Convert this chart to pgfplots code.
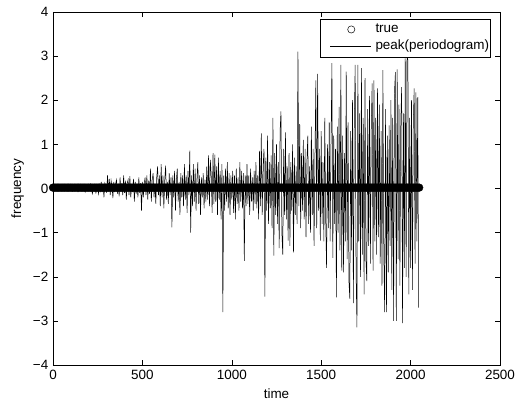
\documentclass[border=0pt]{standalone}
\usepackage{fontspec}
\setmainfont{Liberation Sans}
\usepackage{pgfplots}
\pgfplotsset{compat=1.18}
\begin{document}
\fontsize{13.5}{16}\selectfont
\begin{tikzpicture}
\begin{axis}[
  scale only axis, width=447bp, height=353bp,
  xmin=0, xmax=2500, ymin=-4, ymax=4,
  xtick={0,500,1000,1500,2000,2500}, ytick={-4,-3,-2,-1,0,1,2,3,4},
  yticklabels={−4,−3,−2,−1,0,1,2,3,4},
  tick align=inside, xtick pos=both, ytick pos=both,
  major tick length=5bp,
  every tick/.style={black, line width=0.5pt},
  axis line style={black, line width=0.6pt},
  /pgf/number format/assume math mode=true,
  /pgf/number format/1000 sep={},
  scaled x ticks=false,
  tick label style={font=\fontsize{13.5}{16}\selectfont},
  label style={font=\fontsize{13.5}{16}\selectfont},
  xlabel={time}, ylabel={frequency},
  clip=false,
  legend cell align=left,
  legend style={at={(0.9785,0.981)}, anchor=north east, draw=black, line width=0.5pt,
    fill=white, font=\fontsize{13.5}{16}\selectfont, inner xsep=1bp, inner ysep=4bp,
    nodes={inner sep=0pt, text height=10bp, text depth=3bp}, row sep=4bp, column sep=4bp},
]
\addplot[only marks, mark=*, mark size=3.9bp, black,
  legend image code/.code={\path[draw=none, fill=none] (0,0) -- (50bp,0); \draw[black, fill=none, line width=0.5pt] (30bp,0) circle (3.6bp);}]
coordinates {
(0,0.02)(8,0.02)(16,0.02)(24,0.02)(32,0.02)(40,0.02)(48,0.02)(56,0.02)(64,0.02)(72,0.02)(80,0.02)(88,0.02)(96,0.02)(104,0.02)(112,0.02)(120,0.02)
(128,0.02)(136,0.02)(144,0.02)(152,0.02)(160,0.02)(168,0.02)(176,0.02)(184,0.02)(192,0.02)(200,0.02)(208,0.02)(216,0.02)(224,0.02)(232,0.02)(240,0.02)(248,0.02)
(256,0.02)(264,0.02)(272,0.02)(280,0.02)(288,0.02)(296,0.02)(304,0.02)(312,0.02)(320,0.02)(328,0.02)(336,0.02)(344,0.02)(352,0.02)(360,0.02)(368,0.02)(376,0.02)
(384,0.02)(392,0.02)(400,0.02)(408,0.02)(416,0.02)(424,0.02)(432,0.02)(440,0.02)(448,0.02)(456,0.02)(464,0.02)(472,0.02)(480,0.02)(488,0.02)(496,0.02)(504,0.02)
(512,0.02)(520,0.02)(528,0.02)(536,0.02)(544,0.02)(552,0.02)(560,0.02)(568,0.02)(576,0.02)(584,0.02)(592,0.02)(600,0.02)(608,0.02)(616,0.02)(624,0.02)(632,0.02)
(640,0.02)(648,0.02)(656,0.02)(664,0.02)(672,0.02)(680,0.02)(688,0.02)(696,0.02)(704,0.02)(712,0.02)(720,0.02)(728,0.02)(736,0.02)(744,0.02)(752,0.02)(760,0.02)
(768,0.02)(776,0.02)(784,0.02)(792,0.02)(800,0.02)(808,0.02)(816,0.02)(824,0.02)(832,0.02)(840,0.02)(848,0.02)(856,0.02)(864,0.02)(872,0.02)(880,0.02)(888,0.02)
(896,0.02)(904,0.02)(912,0.02)(920,0.02)(928,0.02)(936,0.02)(944,0.02)(952,0.02)(960,0.02)(968,0.02)(976,0.02)(984,0.02)(992,0.02)(1000,0.02)(1008,0.02)(1016,0.02)
(1024,0.02)(1032,0.02)(1040,0.02)(1048,0.02)(1056,0.02)(1064,0.02)(1072,0.02)(1080,0.02)(1088,0.02)(1096,0.02)(1104,0.02)(1112,0.02)(1120,0.02)(1128,0.02)(1136,0.02)(1144,0.02)
(1152,0.02)(1160,0.02)(1168,0.02)(1176,0.02)(1184,0.02)(1192,0.02)(1200,0.02)(1208,0.02)(1216,0.02)(1224,0.02)(1232,0.02)(1240,0.02)(1248,0.02)(1256,0.02)(1264,0.02)(1272,0.02)
(1280,0.02)(1288,0.02)(1296,0.02)(1304,0.02)(1312,0.02)(1320,0.02)(1328,0.02)(1336,0.02)(1344,0.02)(1352,0.02)(1360,0.02)(1368,0.02)(1376,0.02)(1384,0.02)(1392,0.02)(1400,0.02)
(1408,0.02)(1416,0.02)(1424,0.02)(1432,0.02)(1440,0.02)(1448,0.02)(1456,0.02)(1464,0.02)(1472,0.02)(1480,0.02)(1488,0.02)(1496,0.02)(1504,0.02)(1512,0.02)(1520,0.02)(1528,0.02)
(1536,0.02)(1544,0.02)(1552,0.02)(1560,0.02)(1568,0.02)(1576,0.02)(1584,0.02)(1592,0.02)(1600,0.02)(1608,0.02)(1616,0.02)(1624,0.02)(1632,0.02)(1640,0.02)(1648,0.02)(1656,0.02)
(1664,0.02)(1672,0.02)(1680,0.02)(1688,0.02)(1696,0.02)(1704,0.02)(1712,0.02)(1720,0.02)(1728,0.02)(1736,0.02)(1744,0.02)(1752,0.02)(1760,0.02)(1768,0.02)(1776,0.02)(1784,0.02)
(1792,0.02)(1800,0.02)(1808,0.02)(1816,0.02)(1824,0.02)(1832,0.02)(1840,0.02)(1848,0.02)(1856,0.02)(1864,0.02)(1872,0.02)(1880,0.02)(1888,0.02)(1896,0.02)(1904,0.02)(1912,0.02)
(1920,0.02)(1928,0.02)(1936,0.02)(1944,0.02)(1952,0.02)(1960,0.02)(1968,0.02)(1976,0.02)(1984,0.02)(1992,0.02)(2000,0.02)(2008,0.02)(2016,0.02)(2024,0.02)(2032,0.02)(2040,0.02)
(2048,0.02)
};
\addlegendentry{true}
\addplot[black, line width=0.5pt, mark=none,
  legend image code/.code={\path[draw=none] (0,0) -- (50bp,0); \draw[black, line width=0.5pt] (9bp,0) -- (50bp,0);}]
coordinates {
(0,0.02)(10,0.05)(20,-0.03)(30,0.06)(40,0.01)(50,-0.04)(60,0.07)(70,0.02)(80,-0.05)(90,0.06)
(100,0.03)(110,-0.06)(120,0.05)(130,0.08)(140,-0.07)(150,0.04)(160,-0.05)(170,0.09)(180,-0.08)(190,0.06)
(200,-0.04)(210,0.1)(220,-0.12)(230,0.08)(240,-0.1)
(250,0.05)(255,-0.12)(260,0.08)(265,-0.05)(270,0.15)(275,-0.08)(280,0.1)(285,-0.2)(290,0.12)(295,0.05)
(300,-0.1)(305,0.3)(310,-0.05)(315,0.22)(320,-0.15)(325,0.18)(330,0.05)(335,-0.22)(340,0.15)(345,-0.08)
(350,0.1)(355,0.2)(360,-0.12)(365,0.08)(370,-0.18)(375,0.25)(380,-0.06)(385,0.12)(390,-0.15)(395,0.3)
(400,-0.1)(405,0.18)(410,-0.25)(415,0.12)(420,0.2)(425,-0.15)(430,0.28)(435,-0.2)(440,0.1)(445,-0.08)
(450,0.22)(455,-0.3)(460,0.15)(465,-0.12)(470,0.08)(475,-0.2)(480,0.25)(485,-0.1)(490,0.12)(495,-0.5)
(500,0.15)(505,-0.2)(510,0.1)(515,0.25)(520,-0.15)(525,0.3)(530,-0.25)(535,0.18)(540,-0.12)(545,0.45)
(550,-0.3)(555,0.2)(560,0.35)(565,-0.2)(570,0.1)(575,-0.35)(580,0.25)(585,0.5)(590,-0.15)(595,0.3)
(600,-0.4)(605,0.55)(610,-0.2)(615,0.3)(620,-0.45)(625,0.2)(630,0.52)(635,-0.25)(640,0.15)(645,-0.35)
(650,0.35)(655,-0.15)(660,0.25)(665,-0.88)(670,0.3)(675,-0.2)(680,0.4)(685,-0.5)(690,0.2)(695,0.45)
(700,-0.3)(705,0.15)(710,-0.6)(715,0.35)(720,-0.2)(725,0.3)(730,-0.4)(735,0.55)(740,-0.25)(745,0.3)
(750,-0.55)(755,0.4)(760,-0.15)(765,0.86)(770,-1.0)(775,0.3)(780,-0.4)(785,0.55)(790,-0.3)(795,0.45)
(800,-0.5)(805,0.2)(810,0.6)(815,-0.35)(820,0.3)(825,-0.6)(830,0.25)(835,-0.2)(840,0.35)(845,-0.45)
(850,0.2)(855,-0.3)(860,0.5)(865,-0.25)(870,0.75)(875,-0.4)(880,0.65)(885,0.3)(890,-0.55)(895,0.8)
(900,-0.35)(905,0.77)(910,-0.3)(915,0.5)(920,-0.6)(925,0.7)(930,-0.25)(935,0.4)(940,-0.7)(945,0.55)
(950,-2.8)(955,0.3)(960,-0.5)(965,0.45)(970,-0.3)(975,0.6)(980,-0.45)(985,0.35)(990,-0.6)(995,0.3)
(1000,-0.25)(1005,0.4)(1010,-0.55)(1015,0.3)(1020,-0.7)(1025,0.45)(1030,-0.35)(1035,0.25)(1040,-0.5)(1045,0.6)
(1050,-0.3)(1055,0.4)(1060,-0.45)(1065,0.35)(1070,-1.64)(1075,0.3)(1080,-0.4)(1085,0.55)(1090,-0.35)(1095,0.3)
(1100,-0.6)(1105,0.45)(1110,-0.3)(1115,0.25)(1120,-0.5)(1125,0.4)(1130,-0.35)(1135,0.6)(1140,-0.45)(1145,0.3)
(1150,-0.7)(1155,0.85)(1160,-0.4)(1165,1.25)(1170,-0.6)(1175,0.5)(1180,0.9)(1185,-2.45)(1190,0.7)(1195,-0.5)
(1200,1.2)(1205,-0.8)(1210,0.6)(1215,-0.45)(1220,0.75)(1225,-0.9)(1230,1.6)(1235,-1.52)(1240,0.8)(1245,-0.6)
(1250,1.0)(1255,-0.8)(1260,0.6)(1265,-1.35)(1270,1.3)(1275,1.75)(1280,-1.0)(1285,-1.5)(1290,0.9)(1295,-0.6)
(1300,1.27)(1305,-0.7)(1310,0.5)(1315,-1.18)(1320,0.8)(1325,-1.3)(1330,0.6)(1335,-0.5)(1340,1.0)(1345,-1.45)
(1350,0.7)(1355,-0.6)(1360,0.5)(1365,-0.8)(1370,3.1)(1375,-0.4)(1380,1.46)(1385,-0.9)(1390,0.8)(1395,-0.5)
(1400,1.1)(1405,-0.7)(1410,0.9)(1415,-1.1)(1420,0.6)(1425,1.2)(1430,-0.8)(1435,0.5)(1440,-1.0)(1445,1.4)
(1450,-0.6)(1455,0.9)(1460,-1.3)(1465,0.7)(1470,2.45)(1475,-0.9)(1480,2.6)(1485,-0.5)(1490,0.9)(1495,-1.18)
(1500,1.3)(1505,-0.8)(1510,0.6)(1515,-1.2)(1520,1.6)(1525,-0.7)(1530,-1.8)(1535,1.0)(1540,-0.9)(1545,1.5)
(1550,-1.2)(1555,1.1)(1560,2.84)(1565,-1.57)(1570,1.2)(1575,-0.8)(1580,0.9)(1585,-2.47)(1590,1.4)(1595,-1.0)
(1600,1.85)(1605,-1.4)(1610,2.8)(1615,-1.86)(1620,1.2)(1625,-1.9)(1630,0.8)(1635,-1.2)(1640,2.65)(1645,-1.6)
(1650,1.5)(1655,-2.1)(1660,-2.5)(1665,1.3)(1670,-1.4)(1675,2.0)(1680,-2.6)(1685,1.5)(1690,2.8)(1695,-1.9)
(1700,-3.15)(1705,2.8)(1710,-1.2)(1715,1.7)(1720,-2.0)(1725,2.73)(1730,-1.5)(1735,1.6)(1740,-2.4)(1745,2.5)
(1750,-1.6)(1755,-2.1)(1760,1.8)(1765,-1.3)(1770,2.1)(1775,-1.7)(1780,1.4)(1785,2.38)(1790,-1.86)(1795,2.45)
(1800,-1.2)(1805,1.6)(1810,-1.5)(1815,2.27)(1820,-1.1)(1825,1.9)(1830,-1.7)(1835,1.3)(1840,-2.2)(1845,2.68)
(1850,-1.4)(1855,-2.8)(1860,1.8)(1865,-2.8)(1870,1.2)(1875,-1.9)(1880,1.43)(1885,-1.3)(1890,2.0)(1895,-2.3)
(1900,1.6)(1905,-3.0)(1910,2.2)(1915,2.64)(1920,-3.0)(1925,2.7)(1930,-1.6)(1935,1.9)(1940,-2.2)(1945,1.5)
(1950,2.3)(1955,-3.05)(1960,1.7)(1965,-1.8)(1970,2.95)(1975,-2.0)(1980,3.05)(1985,2.9)(1990,-2.4)(1995,1.6)
(2000,-1.8)(2005,2.0)(2010,-2.3)(2015,1.5)(2020,2.27)(2025,-1.7)(2030,2.18)(2035,-1.2)(2040,2.07)(2045,-2.7)
};
\addlegendentry{peak(periodogram)}
\end{axis}
\path ([shift={(-53bp,-37bp)}]current axis.south west) rectangle ([shift={(20bp,12bp)}]current axis.north east);
\end{tikzpicture}
\end{document}
